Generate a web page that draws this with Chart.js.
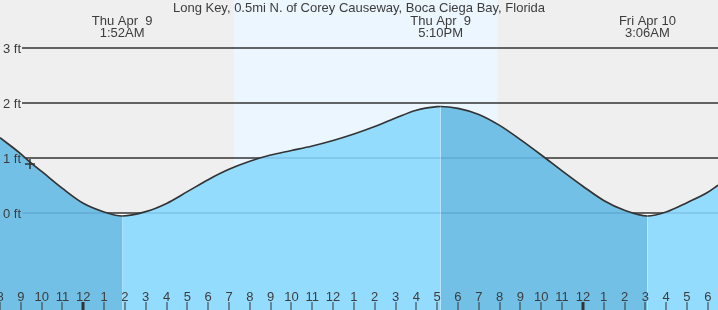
<!DOCTYPE html>
<html><head><meta charset="utf-8">
<script src="https://cdn.jsdelivr.net/npm/chart.js@4/dist/chart.umd.min.js"></script>
<style>html,body{margin:0;padding:0;background:#efefef;overflow:hidden}canvas{display:block}</style>
</head><body><canvas id="c" width="718" height="310"></canvas>
<script>
const titleText = 'Long Key, 0.5mi N. of Corey Causeway, Boca Ciega Bay, Florida';
// hours relative to Thu Apr 9 00:00
const tideHours = [-4,-3,-2.5,-2,-1,0,1,1.867,3,4,5,6,7,8,9,10,11,12,13,14,15,16,17,17.167,18,19,20,21,22,23,24,25,26,27.1,28,29,30,30.49];
const tideFeet  = [1.365,1.07,0.90,0.75,0.44,0.168,0.01,-0.064,0.015,0.166,0.381,0.60,0.788,0.935,1.049,1.131,1.214,1.314,1.432,1.569,1.724,1.867,1.932,1.935,1.90,1.79,1.59,1.33,1.05,0.76,0.48,0.22,0.04,-0.064,0.01,0.18,0.37,0.50];
const eventHours = [1.867, 17.167, 27.1];
const eventDates = ['Thu Apr  9', 'Thu Apr  9', 'Fri Apr 10'];
const eventTimes = ['1:52AM', '5:10PM', '3:06AM'];
const daylight = [7.25, 19.9];
const nowHour = [-2.56];
const nowFeet = [0.885];
const hourTicks = [-4,-3,-2,-1,0,1,2,3,4,5,6,7,8,9,10,11,12,13,14,15,16,17,18,19,20,21,22,23,24,25,26,27,28,29,30];
const hourLabels = ['8','9','10','11','12','1','2','3','4','5','6','7','8','9','10','11','12','1','2','3','4','5','6','7','8','9','10','11','12','1','2','3','4','5','6'];
const yTickValues = [0, 1, 2, 3];
const yTickLabels = ['0 ft', '1 ft', '2 ft', '3 ft'];

const X_MIN = -4.0, X_MAX = 30.49, Y_MIN = -1.779, Y_MAX = 3.878;
const LIGHT = '#94dcfe', DARK = '#72c0e6', TXT = '#3c3c3c', FONT = '13px "Liberation Sans", Arial, sans-serif';

function falling(h) { return h < eventHours[0] || (h >= eventHours[1] && h < eventHours[2]); }

function curvePath(ctx, chart, closeY) {
  const meta = chart.getDatasetMeta(2); // single-segment copy of the tide curve
  const line = meta.dataset, pts = meta.data;
  ctx.beginPath();
  if (line && typeof line.path === 'function') { line.path(ctx); }
  else { pts.forEach((p, i) => i ? ctx.lineTo(p.x, p.y) : ctx.moveTo(p.x, p.y)); }
  ctx.lineTo(chart.width + 2, pts[pts.length - 1].y);
  ctx.lineTo(chart.width + 2, closeY);
  ctx.lineTo(-2, closeY);
  ctx.lineTo(-2, pts[0].y);
  ctx.closePath();
}

const deco = {
  id: 'deco',
  beforeDraw(chart) {
    const { ctx, chartArea: a, scales: { x } } = chart;
    ctx.save();
    ctx.fillStyle = '#efefef';
    ctx.fillRect(0, 0, chart.width, chart.height);
    const x0 = x.getPixelForValue(daylight[0]), x1 = x.getPixelForValue(daylight[1]);
    ctx.fillStyle = '#ebf6ff';
    ctx.fillRect(x0, a.top, x1 - x0, a.bottom - a.top);
    ctx.restore();
  },
  afterDatasetsDraw(chart) {
    const { ctx, chartArea: a, scales: { x, y } } = chart;
    const drawGrid = (color) => {
      ctx.strokeStyle = color; ctx.lineWidth = 1.3;
      yTickValues.forEach(v => {
        const py = Math.round(y.getPixelForValue(v));
        ctx.beginPath(); ctx.moveTo(22, py); ctx.lineTo(chart.width, py); ctx.stroke();
      });
    };
    ctx.save(); curvePath(ctx, chart, a.top - 2); ctx.clip(); drawGrid('#333333'); ctx.restore();
    ctx.save(); curvePath(ctx, chart, a.bottom + 2); ctx.clip(); drawGrid('rgba(20,80,130,0.18)'); ctx.restore();

    ctx.save();
    ctx.fillStyle = TXT; ctx.font = FONT;
    ctx.textAlign = 'left'; ctx.textBaseline = 'middle';
    yTickValues.forEach((v, i) => ctx.fillText(yTickLabels[i], 3, y.getPixelForValue(v) + 1.5));
    ctx.textAlign = 'center';
    ctx.fillText(titleText, chart.width / 2, 8.5);
    eventHours.forEach((h, i) => {
      const px = x.getPixelForValue(h);
      ctx.fillText(eventDates[i], px, 21);
      ctx.fillText(eventTimes[i], px, 33);
    });
    hourTicks.forEach((h, i) => {
      const px = x.getPixelForValue(h);
      ctx.fillText(hourLabels[i], px, 297);
      const mid = (h % 24 === 0);
      ctx.fillStyle = '#333';
      ctx.fillRect(Math.round(px) - (mid ? 1.5 : 0.5), 302, mid ? 3 : 1, 8);
      ctx.fillStyle = TXT;
    });
    ctx.restore();
  }
};

const tidePoints = tideHours.map((h, i) => ({ x: h, y: tideFeet[i] }));

new Chart(document.getElementById('c'), {
  type: 'line',
  data: {
    datasets: [
      {
        data: nowHour.map((h, i) => ({ x: h, y: nowFeet[i] })),
        showLine: false, pointStyle: 'cross', pointRadius: 5, borderColor: '#333', borderWidth: 1.5,
        backgroundColor: '#333', order: 0
      },
      {
        data: tidePoints, borderColor: '#333', borderWidth: 1.7, pointRadius: 0,
        cubicInterpolationMode: 'monotone', fill: 'start', backgroundColor: LIGHT,
        segment: { backgroundColor: c => falling(c.p0.parsed.x) ? DARK : LIGHT },
        order: 1
      },
      {
        data: tidePoints, borderWidth: 0, borderColor: 'rgba(0,0,0,0)', pointRadius: 0,
        cubicInterpolationMode: 'monotone',
        fill: { target: { value: 0 }, above: 'rgba(0,0,0,0)', below: '#ffffff' },
        order: 2
      }
    ]
  },
  options: {
    responsive: false, animation: false, devicePixelRatio: 1,
    layout: { padding: 0, autoPadding: false },
    events: [],
    scales: {
      x: { type: 'linear', display: false, min: X_MIN, max: X_MAX },
      y: { type: 'linear', display: false, min: Y_MIN, max: Y_MAX }
    },
    plugins: { legend: { display: false }, tooltip: { enabled: false }, title: { display: false } }
  },
  plugins: [deco]
});
</script>
</body></html>
